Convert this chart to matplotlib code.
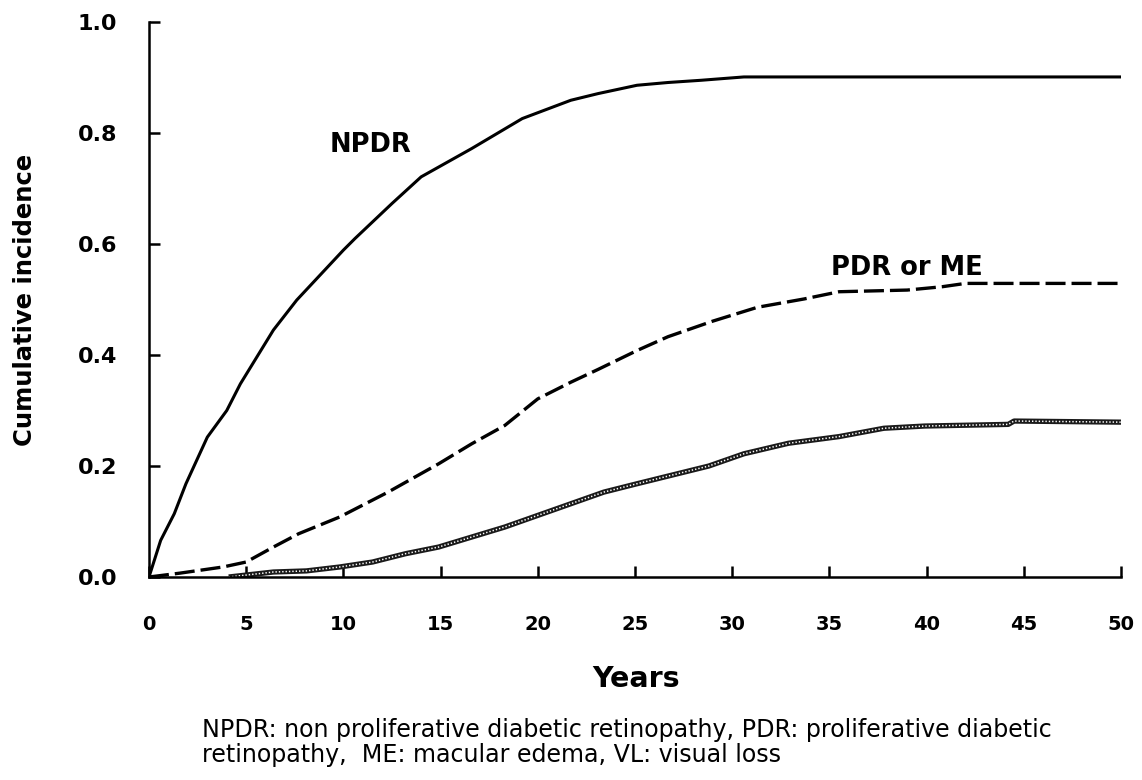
import matplotlib
matplotlib.use("Agg")
import matplotlib.pyplot as plt

# ---- data ----
npdr_x = [0, 0.6, 1.3, 1.9, 3.0, 4.0, 4.7, 6.4, 7.6, 10.0, 10.6, 12.5, 14.0, 16.6,
          19.2, 21.7, 23.1, 25.1, 26.7, 28.4, 30.6, 35, 40, 45, 50]
npdr_y = [0, 0.066, 0.114, 0.168, 0.252, 0.300, 0.348, 0.445, 0.499, 0.589, 0.610,
          0.673, 0.721, 0.772, 0.826, 0.859, 0.871, 0.886, 0.891, 0.895, 0.901,
          0.901, 0.901, 0.901, 0.901]

pdr_x = [0, 1.6, 3.8, 5.0, 6.4, 7.7, 9.8, 12.3, 14.9, 16.6, 18.3, 20.0, 21.7, 23.1,
         25.1, 26.7, 29.0, 31.3, 33.7, 35.5, 39.0, 40.8, 42.0, 45, 50]
pdr_y = [0, 0.007, 0.018, 0.027, 0.054, 0.078, 0.108, 0.153, 0.204, 0.240, 0.273,
         0.321, 0.351, 0.374, 0.408, 0.433, 0.461, 0.486, 0.501, 0.514, 0.517,
         0.523, 0.529, 0.529, 0.529]

vl_x = [4.1, 6.4, 8.1, 9.8, 11.5, 13.2, 14.9, 16.6, 18.3, 20.0, 21.7, 23.4, 25.1,
        28.8, 30.6, 32.9, 35.5, 37.8, 39.9, 44.2, 44.5, 50]
vl_y = [0, 0.009, 0.011, 0.018, 0.027, 0.042, 0.054, 0.072, 0.090, 0.111, 0.132,
        0.153, 0.168, 0.200, 0.222, 0.241, 0.253, 0.268, 0.272, 0.275, 0.281, 0.279]

x_ticks = [0, 5, 10, 15, 20, 25, 30, 35, 40, 45, 50]
y_ticks = [0.0, 0.2, 0.4, 0.6, 0.8, 1.0]

plt.rcParams['font.family'] = ['DejaVu Sans']

W, H = 1142, 780
fig = plt.figure(figsize=(W / 100, H / 100), dpi=100)
ax = fig.add_axes([149 / W, 1 - 577 / H, (1121 - 149) / W, (577 - 22) / H])

ax.plot(npdr_x, npdr_y, color='black', lw=2.2, solid_joinstyle='round')
ax.plot(pdr_x, pdr_y, color='black', lw=2.4, linestyle=(0, (6, 1.8)))
ax.plot(vl_x, vl_y, color='#1a1a1a', lw=3.8, solid_capstyle='butt')
ax.plot(vl_x, vl_y, color='white', lw=1.1, linestyle=(0, (0.9, 1.3)))

ax.set_xlim(0, 50)
ax.set_ylim(0, 1.0)
ax.set_xticks(x_ticks)
ax.set_yticks(y_ticks)
ax.set_xticklabels([str(v) for v in x_ticks], fontsize=14, fontweight='bold')
ax.set_yticklabels([f"{v:.1f}" for v in y_ticks], fontsize=16, fontweight='bold')
ax.tick_params(direction='in', length=8, width=1.8)
ax.tick_params(axis='x', pad=27)
ax.tick_params(axis='y', pad=23)
for s in ['top', 'right']:
    ax.spines[s].set_visible(False)
for s in ['left', 'bottom']:
    ax.spines[s].set_linewidth(1.8)

ax.text(11.4, (577 - 145) / 555, 'NPDR', fontsize=18.5, fontweight='bold',
        ha='center', va='center')
ax.text(39.0, (577 - 268) / 555, 'PDR or ME', fontsize=18.5, fontweight='bold',
        ha='center', va='center')

ylab = fig.text(25 / W, 1 - 300 / H, 'Cumulative incidence', rotation=90, fontsize=17,
                fontweight='bold', ha='center', va='center')
fig.text(636 / W, 1 - 679 / H, 'Years', fontsize=20.5, fontweight='bold',
         ha='center', va='center')

line1 = "NPDR: non proliferative diabetic retinopathy, PDR: proliferative diabetic"
line2 = "retinopathy,  ME: macular edema, VL: visual loss"
c1 = fig.text(202 / W, 1 - 737 / H, line1, fontsize=14, ha='left', va='baseline')
c2 = fig.text(202 / W, 1 - 762 / H, line2, fontsize=14, ha='left', va='baseline')

# size caption and y label so their lengths match the reference
fig.canvas.draw()
r = fig.canvas.get_renderer()
probe = fig.text(0, 0, "NPDR: non proliferative diabetic retinopat", fontsize=14)
pw = probe.get_window_extent(r).width
probe.remove()
fs = 14 * 498 / pw
c1.set_fontsize(fs)
c2.set_fontsize(fs)
lh = ylab.get_window_extent(r).height
ylab.set_fontsize(17 * 294 / lh)

fig.savefig('out.png', dpi=100)
